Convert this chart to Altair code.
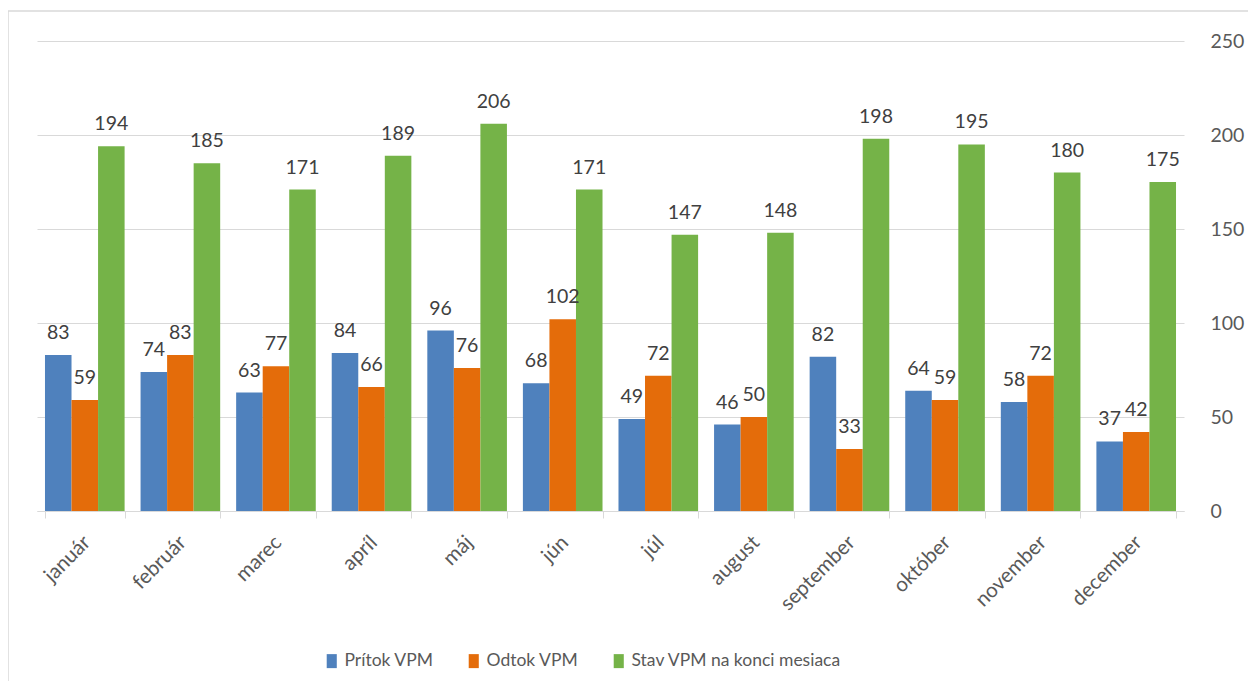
import altair as alt
import pandas as pd

months = ["január", "február", "marec", "apríl", "máj", "jún", "júl",
          "august", "september", "október", "november", "december"]
series = ["Prítok VPM", "Odtok VPM", "Stav VPM na konci mesiaca"]
pritok = [83, 74, 63, 84, 96, 68, 49, 46, 82, 64, 58, 37]
odtok = [59, 83, 77, 66, 76, 102, 72, 50, 33, 59, 72, 42]
stav = [194, 185, 171, 189, 206, 171, 147, 148, 198, 195, 180, 175]
colors = ["#4F81BD", "#E46C0A", "#75B348"]
y_ticks = [0, 50, 100, 150, 200, 250]

rows = []
for vals, s in zip([pritok, odtok, stav], series):
    for m, v in zip(months, vals):
        rows.append({"mesiac": m, "seria": s, "hodnota": v})
df = pd.DataFrame(rows)

FONT = "Lato"
FS_NUM = 19.5
FS_TXT = 17.5
W, H = 1147, 470
GRID = "#D9D9D9"

x = alt.X("mesiac:N", sort=months,
          scale=alt.Scale(paddingInner=0.167, paddingOuter=0.0835),
          axis=alt.Axis(title=None, labelAngle=-45, tickBand="extent",
                        domainColor=GRID, tickColor=GRID, tickSize=7,
                        labelFont=FONT, labelFontSize=20.5, labelColor="#595959",
                        labelPadding=14, labelOffset=-5, grid=False))
xo = alt.XOffset("seria:N", sort=series,
                 scale=alt.Scale(paddingInner=0, paddingOuter=0))
y = alt.Y("hodnota:Q", scale=alt.Scale(domain=[0, 250]),
          axis=alt.Axis(orient="right", values=y_ticks, grid=True, gridColor=GRID,
                        domain=False, ticks=False, labelPadding=26, title=None,
                        labelFont=FONT, labelFontSize=FS_NUM, labelColor="#595959"))
color = alt.Color("seria:N", sort=series,
                  scale=alt.Scale(domain=series, range=colors),
                  legend=alt.Legend(title=None, orient="none", direction="horizontal",
                                    legendX=286, legendY=611, columns=3,
                                    symbolType="M-0.72,-1H0.72V1H-0.72Z",
                                    symbolSize=196,
                                    symbolStrokeWidth=0, symbolOffset=0,
                                    labelOffset=4, columnPadding=31, padding=0,
                                    labelLimit=0,
                                    labelFont=FONT, labelFontSize=FS_TXT,
                                    labelColor="#595959"))

base = alt.Chart(df)
bars = base.mark_bar().encode(x=x, xOffset=xo, y=y, color=color)
labels = base.mark_text(baseline="bottom", dy=-12, font=FONT, fontSize=FS_NUM,
                        color="#404040").encode(x=x, xOffset=xo, y=y,
                                                text="hodnota:Q")

border = alt.Chart(alt.Data(values=[{"k": 1}])).mark_rect(
    fillOpacity=0, stroke=GRID, strokeWidth=1.5
).encode(x=alt.value(-29), x2=alt.value(W + 200),
         y=alt.value(-30), y2=alt.value(H + 300))

chart = alt.layer(border, bars, labels).properties(
    width=W, height=H,
    autosize=alt.AutoSizeParams(type="none"),
    padding={"left": 29, "top": 33, "right": 64, "bottom": 170},
).configure_view(stroke=None)

chart.save("out.html", embed_options={"renderer": "svg", "actions": False})
